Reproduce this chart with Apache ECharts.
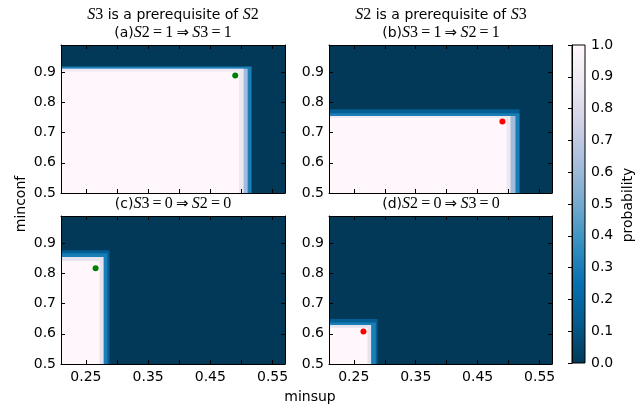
<!DOCTYPE html>
<html>
<head>
<meta charset="utf-8">
<script src="https://cdn.jsdelivr.net/npm/echarts@6/dist/echarts.min.js"></script>
<style>html,body{margin:0;padding:0;background:#fff}#c{width:642px;height:408px}</style>
</head>
<body>
<div id="c"></div>
<script>
// ---- data ----
const X_RANGE = [0.21, 0.57];
const Y_RANGE = [0.5, 0.99];
const xTicks = [0.25, 0.30, 0.35, 0.40, 0.45, 0.50, 0.55];
const xTickLabels = [0.25, 0.35, 0.45, 0.55];
const yTicks = [0.5, 0.6, 0.7, 0.8, 0.9];
const cbTicks = [0.0, 0.1, 0.2, 0.3, 0.4, 0.5, 0.6, 0.7, 0.8, 0.9, 1.0];
// nested regions anchored at lower-left corner: [minsup upper edge, minconf upper edge, probability]
const regionsA = [[0.57, 0.99, 0.0], [0.5163, 0.9185, 0.3], [0.510, 0.911, 0.62], [0.5035, 0.911, 0.88], [0.496, 0.902, 1.0]];
const regionsB = [[0.57, 0.99, 0.0], [0.5175, 0.777, 0.15], [0.5175, 0.764, 0.3], [0.511, 0.755, 0.62], [0.503, 0.755, 0.88], [0.4965, 0.748, 1.0]];
const regionsC = [[0.57, 0.99, 0.0], [0.288, 0.877, 0.15], [0.2845, 0.867, 0.3], [0.2785, 0.854, 0.85], [0.272, 0.841, 1.0]];
const regionsD = [[0.57, 0.99, 0.0], [0.2885, 0.649, 0.15], [0.2856, 0.6375, 0.3], [0.278, 0.629, 0.85], [0.272, 0.62, 1.0]];
const pointA = [0.490, 0.889];
const pointB = [0.490, 0.737];
const pointC = [0.2656, 0.817];
const pointD = [0.2656, 0.608];
// colormap (PuBu reversed)
const PUBU_R = ['#023858', '#045a8d', '#0570b0', '#3690c0', '#74a9cf', '#a6bddb', '#d0d1e6', '#ece7f2', '#fff7fb'];

function hex2rgb(h){return [parseInt(h.substr(1,2),16),parseInt(h.substr(3,2),16),parseInt(h.substr(5,2),16)];}
function cmap(v){
  v = Math.max(0, Math.min(1, v));
  const n = PUBU_R.length - 1;
  const f = v * n; const i = Math.min(n - 1, Math.floor(f)); const t = f - i;
  const a = hex2rgb(PUBU_R[i]), b = hex2rgb(PUBU_R[i+1]);
  const c = a.map((x, k) => Math.round(x + (b[k] - x) * t));
  return 'rgb(' + c.join(',') + ')';
}

const FONT = 'DejaVu Sans';
const grids = [
  {left: 61, top: 45, width: 224, height: 148},
  {left: 329, top: 45, width: 223, height: 148},
  {left: 61, top: 216, width: 224, height: 148},
  {left: 329, top: 216, width: 223, height: 148},
  {left: 572, top: 45, width: 13, height: 318}
];
const panels = [
  {regions: regionsA, point: pointA, color: '#008000', xlabels: false},
  {regions: regionsB, point: pointB, color: '#ff0000', xlabels: false},
  {regions: regionsC, point: pointC, color: '#008000', xlabels: true},
  {regions: regionsD, point: pointD, color: '#ff0000', xlabels: true}
];

const xAxes = [], yAxes = [], series = [];
const lineStyle = {color: '#000', width: 1};
panels.forEach((p, i) => {
  xAxes.push({type: 'value', gridIndex: i, min: X_RANGE[0], max: X_RANGE[1], position: 'bottom', z: 10,
    axisLine: {show: true, onZero: false, lineStyle}, splitLine: {show: false},
    axisTick: {show: true, inside: true, length: 4, lineStyle, customValues: xTicks},
    axisLabel: {show: p.xlabels, customValues: xTickLabels, color: '#000', fontFamily: FONT, fontSize: 14, margin: 6,
      formatter: v => v.toFixed(2)}});
  xAxes.push({type: 'value', gridIndex: i, min: X_RANGE[0], max: X_RANGE[1], position: 'top', z: 10,
    axisLine: {show: true, onZero: false, lineStyle}, splitLine: {show: false},
    axisTick: {show: true, inside: true, length: 4, lineStyle, customValues: xTicks},
    axisLabel: {show: false}});
  yAxes.push({type: 'value', gridIndex: i, min: Y_RANGE[0], max: Y_RANGE[1], position: 'left', z: 10,
    axisLine: {show: true, onZero: false, lineStyle}, splitLine: {show: false},
    axisTick: {show: true, inside: true, length: 4, lineStyle, customValues: yTicks},
    axisLabel: {show: true, customValues: yTicks, color: '#000', fontFamily: FONT, fontSize: 14, margin: 5,
      formatter: v => v.toFixed(1)}});
  yAxes.push({type: 'value', gridIndex: i, min: Y_RANGE[0], max: Y_RANGE[1], position: 'right', z: 10,
    axisLine: {show: true, onZero: false, lineStyle}, splitLine: {show: false},
    axisTick: {show: true, inside: true, length: 4, lineStyle, customValues: yTicks},
    axisLabel: {show: false}});
  series.push({type: 'custom', xAxisIndex: 2*i, yAxisIndex: 2*i, silent: true, animation: false, z: 2,
    data: p.regions, encode: {x: 0, y: 1},
    renderItem: (params, api) => {
      const p0 = api.coord([X_RANGE[0], Y_RANGE[0]]);
      const p1 = api.coord([api.value(0), api.value(1)]);
      return {type: 'rect', shape: {x: p0[0], y: p1[1], width: p1[0] - p0[0], height: p0[1] - p1[1]},
        style: {fill: cmap(api.value(2))}};
    }});
  series.push({type: 'scatter', xAxisIndex: 2*i, yAxisIndex: 2*i, silent: true, animation: false, z: 5,
    symbolSize: 6, itemStyle: {color: p.color, opacity: 1}, data: [p.point]});
});
// colorbar
xAxes.push({type: 'value', gridIndex: 4, min: 0, max: 1, show: false});
yAxes.push({type: 'value', gridIndex: 4, min: 0, max: 1, interval: 0.1, position: 'right', z: 10,
  axisLine: {show: true, lineStyle}, splitLine: {show: false},
  axisTick: {show: true, inside: true, length: 4, lineStyle, customValues: cbTicks},
  axisLabel: {show: true, customValues: cbTicks, color: '#000', fontFamily: FONT, fontSize: 14, margin: 6,
    formatter: v => v.toFixed(1)}});
const gradStops = PUBU_R.map((c, k) => ({offset: 1 - k / (PUBU_R.length - 1), color: c})).reverse();
series.push({type: 'custom', xAxisIndex: 8, yAxisIndex: 8, silent: true, animation: false,
  data: [[0, 0]],
  renderItem: (params, api) => {
    const a = api.coord([0, 0]), b = api.coord([1, 1]);
    return {type: 'rect', shape: {x: a[0], y: b[1], width: b[0] - a[0], height: a[1] - b[1]},
      style: {fill: new echarts.graphic.LinearGradient(0, 0, 0, 1, gradStops), stroke: '#000', lineWidth: 1}};
  }});

const rich = {
  s: {fontFamily: FONT, fontSize: 14, color: '#000'},
  mi: {fontFamily: "'Liberation Serif','DejaVu Serif'", fontStyle: 'italic', fontSize: 16, color: '#000'},
  mn: {fontFamily: "'Liberation Serif','DejaVu Serif'", fontSize: 16, color: '#000'},
  ar: {fontFamily: "'DejaVu Sans'", fontSize: 15, color: '#000'}
};
function txt(x, y, text, extra) {
  return Object.assign({type: 'text', x, y, silent: true, z: 100,
    style: {text, align: 'center', verticalAlign: 'middle', rich, font: '14px ' + FONT, fill: '#000'}}, extra || {});
}
const T = '\u2009';
function impl(a, va, b, vb) {
  return '{mi|S}{mn|' + a + T + '=' + T + va + T + '}{ar|\u21D2}{mi|' + T + 'S}{mn|' + b + T + '=' + T + vb + '}';
}
const graphics = [
  txt(173, 15, '{mi|S}{mn|3}{s| is a prerequisite of }{mi|S}{mn|2}'),
  txt(173, 33, '{s|(a)}' + impl('2', '1', '3', '1')),
  txt(441, 15, '{mi|S}{mn|2}{s| is a prerequisite of }{mi|S}{mn|3}'),
  txt(441, 33, '{s|(b)}' + impl('3', '1', '2', '1')),
  txt(173, 204, '{s|(c)}' + impl('3', '0', '2', '0')),
  txt(441, 204, '{s|(d)}' + impl('2', '0', '3', '0')),
  txt(310, 397, 'minsup'),
  txt(21, 204, 'minconf', {rotation: Math.PI / 2}),
  txt(628, 205, 'probability', {rotation: Math.PI / 2})
];

const chart = echarts.init(document.getElementById('c'), null, {renderer: 'canvas'});
chart.setOption({
  animation: false,
  backgroundColor: '#fff',
  grid: grids,
  xAxis: xAxes,
  yAxis: yAxes,
  series,
  graphic: graphics
});
</script>
</body>
</html>
